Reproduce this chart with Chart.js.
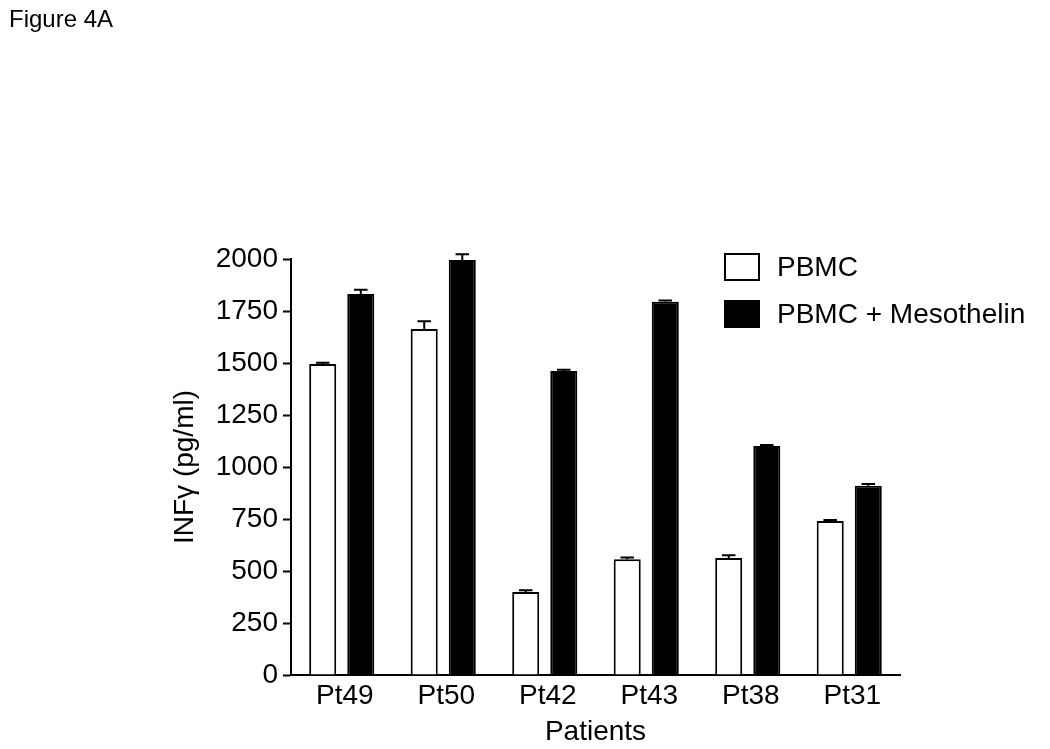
<!DOCTYPE html>
<html>
<head>
<meta charset="utf-8">
<script src="https://cdn.jsdelivr.net/npm/chart.js@4"></script>
<style>
  body { margin: 0; background: #fff; }
  #wrap { position: relative; width: 1050px; height: 749px; }
  #fig { position: absolute; left: 9px; top: 5px; font: 24px "Liberation Sans", Arial, sans-serif; color: #000; }
</style>
</head>
<body>
<div id="wrap">
  <div id="fig">Figure 4A</div>
  <canvas id="chart" width="1050" height="749"></canvas>
</div>
<script>
const patients = ['Pt49', 'Pt50', 'Pt42', 'Pt43', 'Pt38', 'Pt31'];
const pbmc = [1495, 1663, 399, 557, 562, 740];
const pbmcErr = [6, 38, 8, 8, 14, 5];
const meso = [1832, 1995, 1462, 1795, 1101, 910];
const mesoErr = [20, 28, 5, 5, 5, 8];
const yTicks = [0, 250, 500, 750, 1000, 1250, 1500, 1750, 2000];

const FONT = '"Liberation Sans", Arial, sans-serif';

// upward error bars with a cap
const errorBars = {
    id: 'errorBars',
    afterDatasetsDraw(chart) {
        const ctx = chart.ctx;
        const y = chart.scales.y;
        ctx.save();
        ctx.strokeStyle = '#000';
        ctx.lineWidth = 2;
        chart.data.datasets.forEach((ds, i) => {
            const meta = chart.getDatasetMeta(i);
            meta.data.forEach((bar, j) => {
                const top = y.getPixelForValue(ds.data[j] + ds.errors[j]);
                const half = bar.width / 4;
                ctx.beginPath();
                ctx.moveTo(bar.x, bar.y);
                ctx.lineTo(bar.x, top);
                ctx.moveTo(bar.x - half, top);
                ctx.lineTo(bar.x + half, top);
                ctx.stroke();
            });
        });
        ctx.restore();
    }
};

// legend sitting inside the top right corner
const boxLegend = {
    id: 'boxLegend',
    afterDraw(chart) {
        const ctx = chart.ctx;
        ctx.save();
        ctx.font = '28px ' + FONT;
        ctx.textBaseline = 'middle';
        chart.data.datasets.forEach((ds, i) => {
            const x = 725, yy = 254 + i * 47;
            ctx.fillStyle = ds.backgroundColor;
            ctx.fillRect(x, yy, 34, 26);
            ctx.strokeStyle = '#000';
            ctx.lineWidth = 2;
            ctx.strokeRect(x, yy, 34, 26);
            ctx.fillStyle = '#000';
            ctx.fillText(ds.label, 777, yy + 14);
        });
        ctx.restore();
    }
};

new Chart(document.getElementById('chart'), {
    type: 'bar',
    data: {
        labels: patients,
        datasets: [{
            label: 'PBMC',
            data: pbmc,
            errors: pbmcErr,
            backgroundColor: '#ffffff',
            borderColor: '#000000',
            borderWidth: 2,
            borderSkipped: 'bottom'
        }, {
            label: 'PBMC + Mesothelin',
            data: meso,
            errors: mesoErr,
            backgroundColor: '#000000',
            borderColor: '#000000',
            borderWidth: 2,
            borderSkipped: 'bottom'
        }]
    },
    options: {
        responsive: false,
        animation: false,
        categoryPercentage: 0.75,
        barPercentage: 0.71,
        layout: { padding: { left: 166, top: 259, right: 150, bottom: 0 } },
        plugins: {
            legend: { display: false },
            tooltip: { enabled: false }
        },
        scales: {
            x: {
                grid: { display: false, drawTicks: false },
                border: { display: true, color: '#000', width: 2 },
                ticks: { color: '#000', font: { family: FONT, size: 28 }, padding: 4, labelOffset: 3 },
                title: { display: true, text: 'Patients', color: '#000', font: { family: FONT, size: 28 }, padding: { top: 0, bottom: 0 } },
                afterFit(scale) { scale.height = 74; }
            },
            y: {
                min: 0,
                max: 2000,
                afterBuildTicks(scale) { scale.ticks = yTicks.map(v => ({ value: v })); },
                grid: { drawOnChartArea: false, drawTicks: true, tickLength: 8, color: '#000', tickWidth: 2 },
                border: { display: true, color: '#000', width: 2 },
                ticks: { color: '#000', font: { family: FONT, size: 28 }, padding: 5, callback: v => String(v) },
                title: { display: true, text: 'INFγ (pg/ml)', color: '#000', font: { family: FONT, size: 28 }, padding: { top: 2, bottom: 0 } },
                afterFit(scale) { scale.width = 125; }
            }
        }
    },
    plugins: [errorBars, boxLegend]
});
</script>
</body>
</html>
